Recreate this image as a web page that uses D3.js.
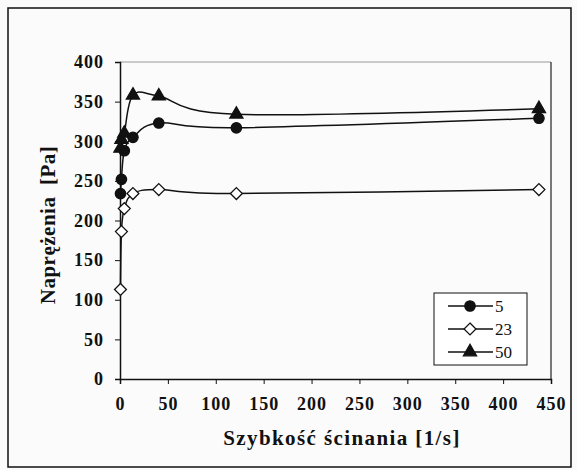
<!DOCTYPE html>
<html lang="pl">
<head>
<meta charset="UTF-8">
<title>Naprężenia</title>
<script src="https://d3js.org/d3.v7.min.js"></script>
<style>
    body { margin: 0; padding: 0; background: #fff; }
    svg { display: block; }
    text { font-family: "Liberation Serif", "Times New Roman", serif; fill: #111; }
    .tick text { font-weight: bold; font-size: 18px; letter-spacing: 1px; }
    .title { font-weight: bold; font-size: 21px; }
    .legend text { font-size: 17px; }
</style>
</head>
<body>
<svg width="577" height="470"></svg>
<script>
    // szybkosc scinania [1/s]
    var shearRate = [0.5, 1.5, 4.5, 13.5, 40.5, 121.5, 437.4];
    var seriesNames = ["5", "23", "50"];
    var stress5  = [234, 252, 288, 305, 323, 317, 329];
    var stress23 = [113, 186, 215, 234, 239, 234, 239];
    var stress50 = [291, 302, 310, 358, 357, 334, 341];
    var xTicks = [0, 50, 100, 150, 200, 250, 300, 350, 400, 450];
    var yTicks = [0, 50, 100, 150, 200, 250, 300, 350, 400];

    var svg = d3.select("svg");
    var pLeft = 120, pRight = 551, pTop = 62, pBottom = 379;

    svg.append("rect")
        .attr("x", 0).attr("y", 0).attr("width", 577).attr("height", 470)
        .attr("fill", "#fbfbfb");
    svg.append("rect")
        .attr("x", 8).attr("y", 8).attr("width", 563).attr("height", 459)
        .attr("fill", "#fbfbfb").attr("stroke", "#111").attr("stroke-width", 1.5);

    var x = d3.scaleLinear().domain([0, 450]).range([pLeft, pRight]);
    var y = d3.scaleLinear().domain([0, 400]).range([pBottom, pTop]);

    // ramka obszaru wykresu
    svg.append("line")
        .attr("x1", pLeft).attr("x2", pRight).attr("y1", pTop).attr("y2", pTop)
        .attr("stroke", "#999").attr("stroke-width", 1);
    svg.append("line")
        .attr("x1", pRight).attr("x2", pRight).attr("y1", pTop).attr("y2", pBottom)
        .attr("stroke", "#222").attr("stroke-width", 1.2);

    svg.append("g")
        .attr("transform", "translate(0," + pBottom + ")")
        .call(d3.axisBottom(x).tickValues(xTicks).tickSize(5).tickPadding(13));
    svg.append("g")
        .attr("transform", "translate(" + pLeft + ",0)")
        .call(d3.axisLeft(y).tickValues(yTicks).tickSize(5).tickPadding(11));
    svg.selectAll(".domain").attr("stroke", "#111").attr("stroke-width", 1.5);
    svg.selectAll(".tick line").attr("stroke", "#111");

    svg.append("text")
        .attr("class", "title")
        .attr("x", 342).attr("y", 445)
        .attr("text-anchor", "middle")
        .style("letter-spacing", "1.4px")
        .text("Szybkość ścinania [1/s]");
    svg.append("text")
        .attr("class", "title")
        .attr("transform", "translate(55,225) rotate(-90)")
        .attr("text-anchor", "middle")
        .attr("xml:space", "preserve")
        .style("letter-spacing", "0.5px")
        .text("Naprężenia  [Pa]");

    var line = d3.line()
        .x(function(d) { return x(d[0]); })
        .y(function(d) { return y(d[1]); })
        .curve(d3.curveCatmullRom.alpha(0));

    var series = [stress5, stress23, stress50].map(function(vals, i) {
        return { name: seriesNames[i], points: shearRate.map(function(s, j) { return [s, vals[j]]; }) };
    });

    var symbols = [d3.symbolCircle, d3.symbolDiamond2, d3.symbolTriangle];
    var symSize = [85, 90, 75];
    var symFill = ["#111", "#fff", "#111"];

    function drawSymbol(g, i) {
        g.append("path")
            .attr("d", d3.symbol().type(symbols[i]).size(symSize[i]))
            .attr("fill", symFill[i])
            .attr("stroke", "#111")
            .attr("stroke-width", 1.3);
    }

    series.forEach(function(s) {
        svg.append("path")
            .datum(s.points)
            .attr("d", line)
            .attr("fill", "none")
            .attr("stroke", "#111")
            .attr("stroke-width", 1.5);
    });
    series.forEach(function(s, i) {
        svg.selectAll(".m" + i)
            .data(s.points)
            .enter().append("g")
            .attr("class", "m" + i)
            .attr("transform", function(d) { return "translate(" + x(d[0]) + "," + y(d[1]) + ")"; })
            .each(function() { drawSymbol(d3.select(this), i); });
    });

    // legenda
    var legend = svg.append("g").attr("class", "legend");
    legend.append("rect")
        .attr("x", 434).attr("y", 293).attr("width", 93).attr("height", 72)
        .attr("fill", "#fff").attr("stroke", "#111").attr("stroke-width", 1);
    seriesNames.forEach(function(name, i) {
        var ly = 306 + i * 23;
        legend.append("line")
            .attr("x1", 448).attr("x2", 493).attr("y1", ly).attr("y2", ly)
            .attr("stroke", "#111").attr("stroke-width", 1.5);
        var g = legend.append("g").attr("transform", "translate(470," + ly + ")");
        drawSymbol(g, i);
        legend.append("text")
            .attr("x", 495).attr("y", ly + 5.5)
            .text(name);
    });
</script>
</body>
</html>
